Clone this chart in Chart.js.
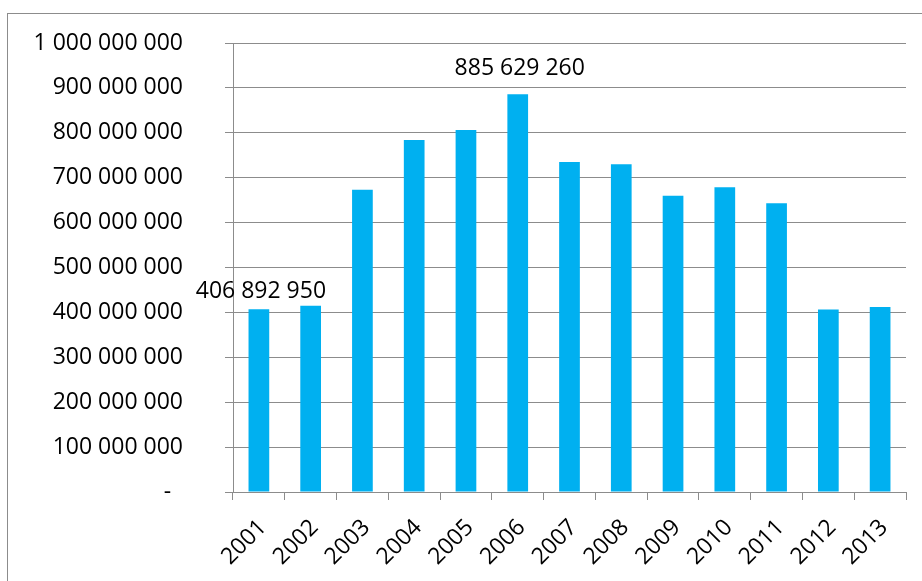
<!DOCTYPE html>
<html>
<head>
<meta charset="utf-8">
<script src="https://cdn.jsdelivr.net/npm/chart.js@4/dist/chart.umd.min.js"></script>
<style>
  html, body { margin: 0; padding: 0; background: #fff; }
  #wrap { position: relative; width: 922px; height: 581px; overflow: hidden; }
  #frame { position: absolute; left: 7px; top: 13px; width: 1000px; height: 1000px; border: 1px solid #8c8c8c; }
  canvas { position: absolute; left: 0; top: 0; }
</style>
</head>
<body>
<div id="wrap">
  <div id="frame"></div>
  <canvas id="chart" width="922" height="581"></canvas>
</div>
<script>
// years on the x axis
const years = ['2001', '2002', '2003', '2004', '2005', '2006', '2007',
               '2008', '2009', '2010', '2011', '2012', '2013'];
// values
const values = [406892950, 415000000, 673000000, 784000000, 806000000, 885629260, 735000000,
                730000000, 660000000, 679000000, 643000000, 406700000, 412000000];
// only these bars carry a value label
const labelledBars = [0, 5];
const labelGaps = [11, 19];

const FONT = '"Open Sans", "DejaVu Sans", sans-serif';
const GRID = '#8c8c8c';

function spaced(n) {
    return Math.round(n).toString().replace(/\B(?=(\d{3})+(?!\d))/g, ' ');
}

// draws the two value labels above their bars
const valueLabels = {
    id: 'valueLabels',
    afterDatasetsDraw(chart) {
        const ctx = chart.ctx;
        const bars = chart.getDatasetMeta(0).data;
        ctx.save();
        ctx.font = '23px ' + FONT;
        ctx.fillStyle = '#000';
        ctx.textAlign = 'center';
        ctx.textBaseline = 'bottom';
        labelledBars.forEach(function(i, k) {
            const bar = bars[i];
            ctx.fillText(spaced(values[i]), bar.x + 2, bar.y - labelGaps[k] + 5);
        });
        ctx.restore();
    }
};

new Chart(document.getElementById('chart'), {
    type: 'bar',
    data: {
        labels: years,
        datasets: [{
            data: values,
            backgroundColor: '#00b0f0',
            barPercentage: 0.4,
            categoryPercentage: 1
        }]
    },
    options: {
        responsive: false,
        animation: false,
        layout: { padding: { left: 0, top: 43, right: 16, bottom: 0 } },
        plugins: { legend: { display: false }, tooltip: { enabled: false } },
        scales: {
            y: {
                min: 0,
                max: 1000000000,
                afterFit(scale) {
                    scale.width = 233;
                    // tick padding would otherwise push the plot down
                    scale.paddingTop = 12;
                    scale.paddingBottom = 12;
                },
                border: { color: GRID, width: 1 },
                grid: { color: GRID, lineWidth: 1, tickLength: 8 },
                ticks: {
                    stepSize: 100000000,
                    padding: 42,
                    color: '#000',
                    font: { family: FONT, size: 23 },
                    callback: function(v) { return v === 0 ? '-  ' : spaced(v); }
                }
            },
            x: {
                afterFit(scale) { scale.height = 89; },
                border: { color: GRID, width: 1 },
                grid: { drawOnChartArea: false, color: GRID, tickLength: 8 },
                ticks: {
                    minRotation: 45,
                    maxRotation: 45,
                    padding: 14,
                    labelOffset: 4,
                    color: '#000',
                    font: { family: FONT, size: 23 }
                }
            }
        }
    },
    plugins: [valueLabels]
});
</script>
</body>
</html>
